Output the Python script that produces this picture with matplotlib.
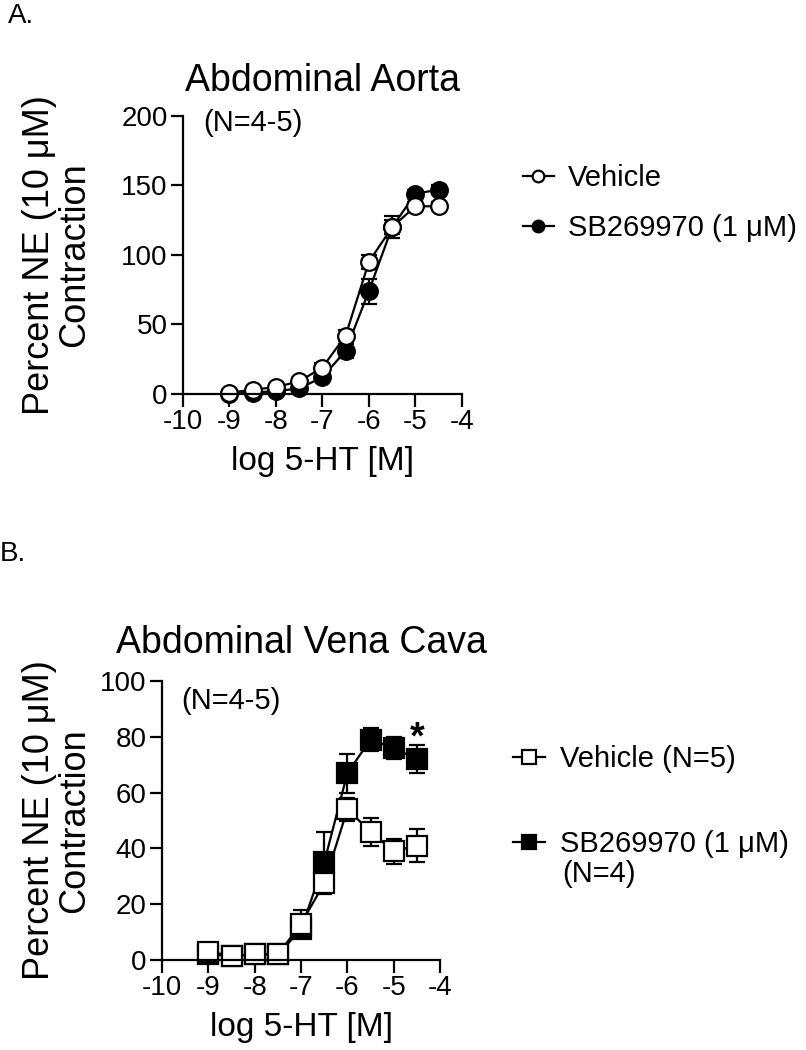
import matplotlib
matplotlib.use("Agg")
import matplotlib.pyplot as plt

plt.rcParams['font.family'] = ['Liberation Sans', 'DejaVu Sans']

# log 5-HT concentrations
log_conc = [-9, -8.5, -8, -7.5, -7, -6.5, -6, -5.5, -5, -4.5]

# A. abdominal aorta (percent of NE 10 uM contraction)
aorta_veh = [1, 3, 5, 9, 19, 42, 95, 120, 135, 135]
aorta_veh_sem = [0.5, 1, 1, 1.5, 3, 4, 5, 5, 3, 3]
aorta_sb = [0, 1, 2, 4, 12, 31, 74, 120, 144, 147]
aorta_sb_sem = [0.5, 0.5, 1, 1, 2, 5, 9, 8, 3, 3]

# B. abdominal vena cava
vc_veh = [3, 1.5, 2, 2, 13, 27.5, 54, 46, 39, 41]
vc_veh_sem = [1, 1, 1, 1, 5, 4, 4, 5, 4.5, 6]
vc_sb = [2, 1.5, 2, 2, 11, 35, 67, 79, 76, 72]
vc_sb_sem = [0.5, 0.5, 0.5, 0.5, 3, 11, 7, 4, 4, 5]

x_ticks = [-10, -9, -8, -7, -6, -5, -4]
ylabel = "Percent NE (10 \u03bcM)\nContraction"

fig = plt.figure(figsize=(8.06, 10.5), dpi=100)


def style_axes(ax, yticks):
    ax.spines['top'].set_visible(False)
    ax.spines['right'].set_visible(False)
    for s in ['left', 'bottom']:
        ax.spines[s].set_linewidth(1.6)
    ax.set_xlim(-10, -4)
    ax.set_ylim(yticks[0], yticks[-1])
    ax.set_xticks(x_ticks)
    ax.set_xticklabels([str(t) for t in x_ticks])
    ax.set_yticks(yticks)
    ax.tick_params(labelsize=20, width=1.6, length=9, pad=2)
    ax.set_xlabel("log 5-HT [M]", fontsize=24, labelpad=8)


def draw(ax, y, err, marker, face, ms):
    eb = ax.errorbar(log_conc, y, yerr=err, color='black', marker=marker,
                     markerfacecolor=face, markeredgecolor='black',
                     markersize=ms, markeredgewidth=1.6, linewidth=1.6,
                     elinewidth=1.6, capsize=6, capthick=1.6, clip_on=False)
    for art in eb.lines[1] + eb.lines[2]:
        art.set_clip_on(False)
    return eb.lines[0]


# ---- A. Abdominal Aorta ----
ax1 = fig.add_axes([0.227, 0.6248, 0.346, 0.2648])
style_axes(ax1, [0, 50, 100, 150, 200])
h_sb = draw(ax1, aorta_sb, aorta_sb_sem, 'o', 'black', 12)
h_veh = draw(ax1, aorta_veh, aorta_veh_sem, 'o', 'white', 12)
ax1.set_title("Abdominal Aorta", fontsize=27, pad=18)
ax1.set_ylabel(ylabel, fontsize=26, va='center', linespacing=1.0)
ax1.yaxis.set_label_coords(-0.45, 0.5)
ax1.text(-9.57, 195, "(N=4-5)", fontsize=21, va='center')
ax1.legend([h_veh, h_sb], ["Vehicle", "SB269970 (1 \u03bcM)"],
           loc='upper left', bbox_to_anchor=(523 / 806, 1 - 164 / 1050),
           bbox_transform=fig.transFigure, frameon=False, fontsize=21,
           handlelength=1.05, handletextpad=0.5, labelspacing=0.75,
           borderpad=0, borderaxespad=0, markerscale=0.7)
fig.text(8 / 806, 1 - 3 / 1050, "A.", fontsize=20, va='top', ha='left')

# ---- B. Abdominal Vena Cava ----
ax2 = fig.add_axes([0.201, 0.0857, 0.345, 0.2657])
style_axes(ax2, [0, 20, 40, 60, 80, 100])
h_sb2 = draw(ax2, vc_sb, vc_sb_sem, 's', 'black', 14)
h_veh2 = draw(ax2, vc_veh, vc_veh_sem, 's', 'white', 14)
ax2.set_title("Abdominal Vena Cava", fontsize=27, pad=20)
ax2.set_ylabel(ylabel, fontsize=26, va='center', linespacing=1.0)
ax2.yaxis.set_label_coords(-0.376, 0.5)
ax2.text(-9.59, 93, "(N=4-5)", fontsize=21, va='center')
ax2.text(log_conc[-1], vc_sb[-1] + vc_sb_sem[-1] - 4, "*", fontsize=27,
         fontweight='bold', ha='center', va='bottom')
ax2.legend([h_veh2, h_sb2], ["Vehicle (N=5)", "SB269970 (1 \u03bcM)"],
           loc='upper left', bbox_to_anchor=(513 / 806, 1 - 745 / 1050),
           bbox_transform=fig.transFigure, frameon=False, fontsize=21,
           handlelength=1.1, handletextpad=0.5, labelspacing=1.95,
           borderpad=0, borderaxespad=0, markerscale=0.7)
fig.text(562 / 806, 1 - 874 / 1050, "(N=4)", fontsize=21, va='center', ha='left')
fig.text(0 / 806, 1 - 541 / 1050, "B.", fontsize=20, va='top', ha='left')

fig.savefig("out.png", dpi=100)
